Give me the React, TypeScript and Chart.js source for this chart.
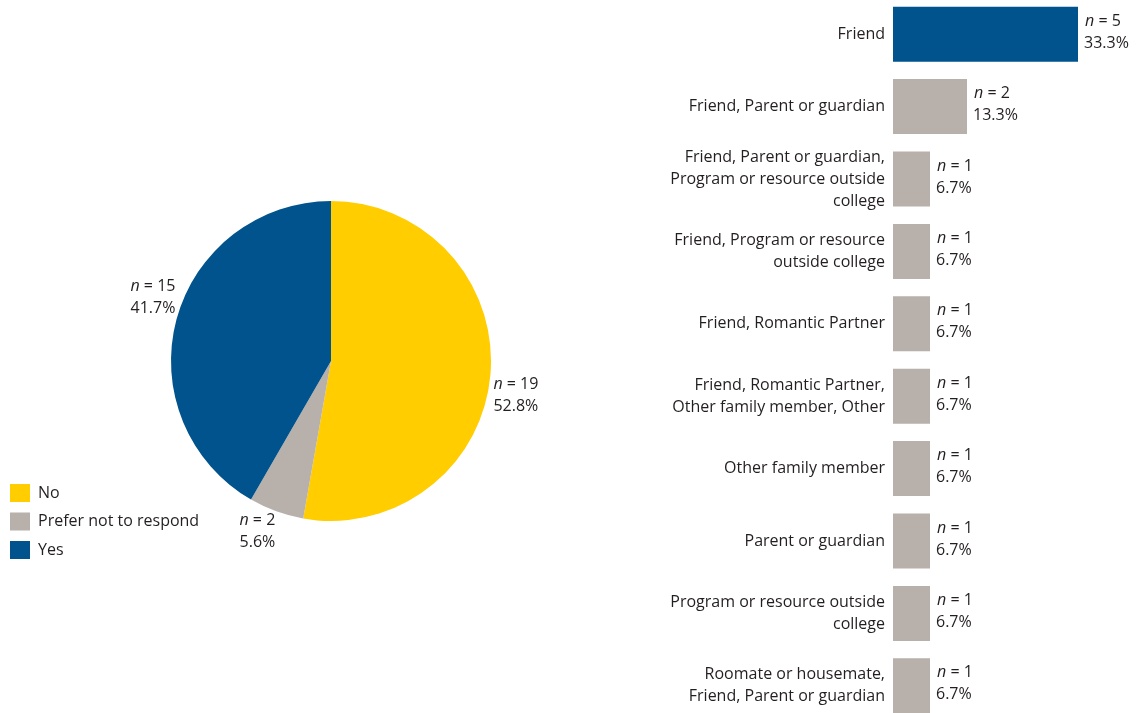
import React, { useEffect, useRef } from "react";
import { Chart, registerables } from "chart.js";

Chart.register(...registerables);

const FONT = '"Open Sans", Lato, sans-serif';
const FS = 16;
const TEXT = "#231F20";
const BLUE = "#00538C";
const YELLOW = "#FFCD00";
const GRAY = "#B8B0AB";

const pieLabels = ["No", "Prefer not to respond", "Yes"];
const pieCounts = [19, 2, 15];
const piePercents = ["52.8%", "5.6%", "41.7%"];
const pieColors = [YELLOW, GRAY, BLUE];

const barCategories: (string | string[])[] = [
  "Friend",
  "Friend, Parent or guardian",
  ["Friend, Parent or guardian,", "Program or resource outside", "college"],
  ["Friend, Program or resource", "outside college"],
  "Friend, Romantic Partner",
  ["Friend, Romantic Partner,", "Other family member, Other"],
  "Other family member",
  "Parent or guardian",
  ["Program or resource outside", "college"],
  ["Roomate or housemate,", "Friend, Parent or guardian"],
];
const barCounts = [5, 2, 1, 1, 1, 1, 1, 1, 1, 1];
const barPercents = ["33.3%", "13.3%", "6.7%", "6.7%", "6.7%", "6.7%", "6.7%", "6.7%", "6.7%", "6.7%"];
const barColors = [BLUE, GRAY, GRAY, GRAY, GRAY, GRAY, GRAY, GRAY, GRAY, GRAY];

function drawN(ctx: CanvasRenderingContext2D, x: number, y: number, n: number, align: "left" | "right") {
  ctx.textBaseline = "middle";
  ctx.textAlign = "left";
  ctx.fillStyle = TEXT;
  ctx.font = `italic ${FS}px ${FONT}`;
  const wa = ctx.measureText("n").width;
  ctx.font = `${FS}px ${FONT}`;
  const b = " = " + n;
  const wb = ctx.measureText(b).width;
  const start = align === "left" ? x : x - wa - wb;
  ctx.font = `italic ${FS}px ${FONT}`;
  ctx.fillText("n", start, y);
  ctx.font = `${FS}px ${FONT}`;
  ctx.fillText(b, start + wa, y);
}

function drawText(ctx: CanvasRenderingContext2D, x: number, y: number, t: string, align: "left" | "right") {
  ctx.textBaseline = "middle";
  ctx.textAlign = align;
  ctx.fillStyle = TEXT;
  ctx.font = `${FS}px ${FONT}`;
  ctx.fillText(t, x, y);
}

const pieLabelPlugin = {
  id: "pieLabels",
  afterDraw(chart: any) {
    const ctx = chart.ctx as CanvasRenderingContext2D;
    const meta = chart.getDatasetMeta(0);
    ctx.save();
    meta.data.forEach((arc: any, i: number) => {
      const mid = (arc.startAngle + arc.endAngle) / 2;
      const r = arc.outerRadius;
      const px = arc.x + Math.cos(mid) * r;
      const py = arc.y + Math.sin(mid) * r;
      const right = Math.cos(mid) >= 0;
      const cy = py + (Math.sin(mid) >= 0 ? 20 : -22);
      const lx = right ? px + 3 : px - 1;
      const align = right ? "left" : "right";
      drawN(ctx, lx, cy - 11, pieCounts[i], align);
      drawText(ctx, lx, cy + 11, piePercents[i], align);
    });
    // legend
    pieLabels.forEach((lab, i) => {
      const y = 493 + i * 28.5;
      ctx.fillStyle = pieColors[i];
      ctx.fillRect(10, y - 9, 20, 18);
      drawText(ctx, 38, y, lab, "left");
    });
    ctx.restore();
  },
};

const barLabelPlugin = {
  id: "barLabels",
  afterDraw(chart: any) {
    const ctx = chart.ctx as CanvasRenderingContext2D;
    const meta = chart.getDatasetMeta(0);
    ctx.save();
    meta.data.forEach((bar: any, i: number) => {
      const x = bar.x + 7;
      drawN(ctx, x, bar.y - 13, barCounts[i], "left");
      drawText(ctx, x - 1, bar.y + 9, barPercents[i], "left");
    });
    ctx.restore();
  },
};

export default function App() {
  const pieRef = useRef<HTMLCanvasElement>(null);
  const barRef = useRef<HTMLCanvasElement>(null);

  useEffect(() => {
    const pie = new Chart(pieRef.current!, {
      type: "pie",
      data: {
        labels: pieLabels,
        datasets: [{ data: pieCounts, backgroundColor: pieColors, borderWidth: 0 }],
      },
      options: {
        responsive: false,
        animation: false,
        layout: { padding: { left: 171, right: 69, top: 201, bottom: 192 } },
        plugins: { legend: { display: false }, tooltip: { enabled: false } },
      },
      plugins: [pieLabelPlugin],
    });

    const bar = new Chart(barRef.current!, {
      type: "bar",
      data: {
        labels: barCategories as any,
        datasets: [
          {
            data: barCounts,
            backgroundColor: barColors,
            borderWidth: 0,
            categoryPercentage: 1,
            barPercentage: 0.76,
          },
        ],
      },
      options: {
        indexAxis: "y",
        responsive: false,
        animation: false,
        layout: { padding: { left: 0, right: 21, top: 0, bottom: 0 } },
        plugins: { legend: { display: false }, tooltip: { enabled: false } },
        scales: {
          x: { display: false, min: 0, max: 6 },
          y: {
            afterFit: (scale: any) => {
              scale.width = 333;
              scale.paddingTop = 0;
              scale.paddingBottom = 0;
            },
            grid: { display: false, drawTicks: false },
            border: { display: false },
            ticks: {
              autoSkip: false,
              padding: 8,
              color: TEXT,
              font: { family: FONT, size: FS, lineHeight: 1.375 },
            },
          },
        },
      },
      plugins: [barLabelPlugin],
    });

    return () => {
      pie.destroy();
      bar.destroy();
    };
  }, []);

  return (
    <div style={{ position: "fixed", left: 0, top: 0, width: 1136, height: 713, overflow: "hidden", background: "#fff" }}>
      <canvas ref={pieRef} width={560} height={713} style={{ position: "absolute", left: 0, top: 0 }} />
      <canvas ref={barRef} width={576} height={724} style={{ position: "absolute", left: 560, top: -2 }} />
    </div>
  );
}
